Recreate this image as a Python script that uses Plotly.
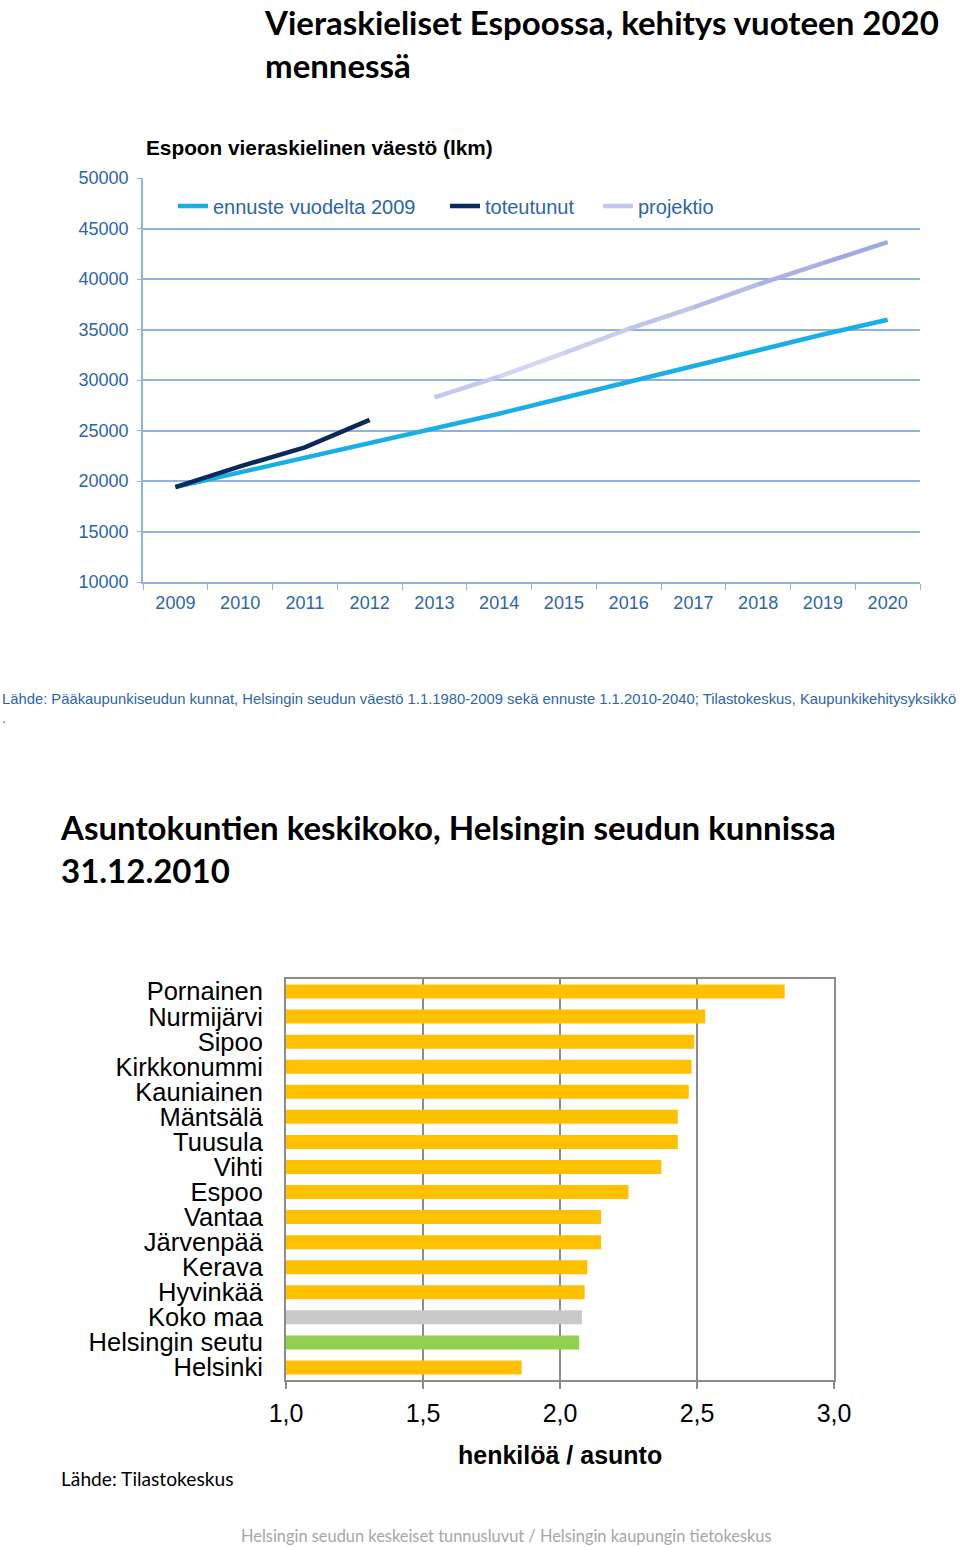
import plotly.graph_objects as go

# ---------------- data: top chart ----------------
years = ["2009", "2010", "2011", "2012", "2013", "2014", "2015", "2016",
         "2017", "2018", "2019", "2020"]
ennuste = [19400, 20850, 22270, 23760, 25140, 26660, 28240, 29790,
           31440, 32990, 34500, 35960]
toteutunut_years = ["2009", "2010", "2011", "2012"]
toteutunut = [19400, 21450, 23330, 26050]
projektio_years = ["2013", "2014", "2015", "2016", "2017", "2018", "2019", "2020"]
projektio = [28280, 30330, 32660, 35070, 37200, 39460, 41570, 43650]
y_ticks = [10000, 15000, 20000, 25000, 30000, 35000, 40000, 45000, 50000]

# ---------------- data: bar chart ----------------
kunnat = ["Pornainen", "Nurmijärvi", "Sipoo", "Kirkkonummi", "Kauniainen",
          "Mäntsälä", "Tuusula", "Vihti", "Espoo", "Vantaa", "Järvenpää",
          "Kerava", "Hyvinkää", "Koko maa", "Helsingin seutu", "Helsinki"]
keskikoko = [2.82, 2.53, 2.49, 2.48, 2.47, 2.43, 2.43, 2.37, 2.25, 2.15,
             2.15, 2.10, 2.09, 2.08, 2.07, 1.86]
x_ticks = [1.0, 1.5, 2.0, 2.5, 3.0]

# ---------------- styling ----------------
W, H = 960, 1547
BLUE_TXT = "#2b65ad"
GRID_BLUE = "#8fb2e0"
C_ENN = "#1aaee6"
C_TOT = "#0b2a5c"
PROJ_START = (0xE2, 0xE4, 0xF3)
PROJ_END = (0x9C, 0xA5, 0xDE)
YELLOW = "#FFC000"
special_colors = {"Koko maa": "#C9C9C9", "Helsingin seutu": "#92D050"}
GRAY = "#8c8c8c"
TITLE_FONT = "Lato"
SANS = "Liberation Sans, Arial, sans-serif"


def py(px):
    return 1 - px / H


def px_x(px):
    return px / W


fig = go.Figure()

# top chart lines
fig.add_trace(go.Scatter(x=years, y=ennuste, mode="lines", name="ennuste vuodelta 2009",
                         line=dict(color=C_ENN, width=4.5), xaxis="x", yaxis="y",
                         legend="legend"))
fig.add_trace(go.Scatter(x=toteutunut_years, y=toteutunut, mode="lines", name="toteutunut",
                         line=dict(color=C_TOT, width=4.5), xaxis="x", yaxis="y",
                         legend="legend2"))

n = len(projektio) - 1
for i in range(n):
    t = (i + 0.5) / n
    rgb = tuple(round(a + (b - a) * t) for a, b in zip(PROJ_START, PROJ_END))
    col = "rgb(%d,%d,%d)" % rgb
    fig.add_trace(go.Scatter(
        x=projektio_years[i:i + 2], y=projektio[i:i + 2], mode="lines",
        name="projektio", legendgroup="proj", showlegend=(i == 0),
        line=dict(color=col if i > 0 else "rgb(196,200,236)", width=4.5),
        xaxis="x", yaxis="y", legend="legend3"))

# bar chart
bar_colors = [special_colors.get(k, YELLOW) for k in kunnat]
fig.add_trace(go.Bar(x=keskikoko, y=kunnat, orientation="h",
                     marker=dict(color=bar_colors, line=dict(width=0)),
                     showlegend=False, xaxis="x2", yaxis="y2"))

leg_common = dict(orientation="h", xanchor="left", yanchor="middle", y=py(206),
                  font=dict(size=20, color=BLUE_TXT, family=SANS),
                  bgcolor="rgba(0,0,0,0)", itemwidth=30)

fig.update_layout(
    width=W, height=H,
    margin=dict(l=0, r=0, t=0, b=0, autoexpand=False),
    paper_bgcolor="white", plot_bgcolor="white",
    separators=", ",
    font=dict(family=SANS, color=BLUE_TXT),
    showlegend=True,
    legend=dict(x=px_x(173), **leg_common),
    legend2=dict(x=px_x(445), **leg_common),
    legend3=dict(x=px_x(598), **leg_common),
    xaxis=dict(domain=[px_x(143), px_x(920)], anchor="y", type="category",
               categoryorder="array", categoryarray=years, automargin=False,
               range=[-0.5, len(years) - 0.5],
               showgrid=False, showline=True, linecolor=GRID_BLUE, linewidth=1.5,
               ticks="outside", tickson="boundaries", ticklen=6, tickcolor=GRID_BLUE,
               tickfont=dict(size=18, color=BLUE_TXT), ticklabelstandoff=4),
    yaxis=dict(domain=[py(582), py(178)], anchor="x", range=[10000, 50000],
               tickvals=y_ticks, tickformat="d", automargin=False,
               showgrid=True, gridcolor=GRID_BLUE, gridwidth=1.5,
               showline=True, linecolor=GRID_BLUE, linewidth=1.5,
               ticks="outside", ticklen=4, tickcolor=GRID_BLUE,
               tickfont=dict(size=18, color=BLUE_TXT), ticklabelstandoff=5,
               zeroline=False),
    xaxis2=dict(domain=[px_x(286), px_x(834)], anchor="y2", range=[1.0, 3.0],
                tickvals=x_ticks, tickformat=".1f", automargin=False,
                showgrid=True, gridcolor=GRAY, gridwidth=2,
                showline=True, mirror=True, linecolor=GRAY, linewidth=2,
                ticks="outside", ticklen=7, tickcolor=GRAY, tickwidth=2,
                tickfont=dict(size=25, color="black", family=SANS),
                ticklabelstandoff=3, zeroline=False),
    yaxis2=dict(domain=[py(1380), py(979)], anchor="x2", type="category",
                categoryorder="array", categoryarray=kunnat, autorange="reversed",
                tickmode="array", tickvals=kunnat, ticktext=kunnat, automargin=False,
                showgrid=False, showline=True, mirror=True, linecolor=GRAY, linewidth=2,
                ticks="", tickfont=dict(size=25.5, color="black", family=SANS),
                ticklabelstandoff=16),
    bargap=0.44,
)

ann = [
    dict(text="<b>Vieraskieliset Espoossa, kehitys vuoteen 2020<br>mennessä</b>",
         x=px_x(262), y=1.0, xanchor="left", yanchor="top", align="left",
         font=dict(family=TITLE_FONT, size=33, color="black")),
    dict(text="<b>Espoon vieraskielinen väestö (lkm)</b>",
         x=px_x(144), y=py(147), xanchor="left", yanchor="middle", align="left",
         font=dict(family=SANS, size=20.8, color="black")),
    dict(text="Lähde: Pääkaupunkiseudun kunnat, Helsingin seudun väestö 1.1.1980-2009 sekä ennuste "
              "1.1.2010-2040; Tilastokeskus, Kaupunkikehitysyksikkö<br>.",
         x=0, y=py(709), xanchor="left", yanchor="middle", align="left",
         font=dict(family=SANS, size=14.8, color=BLUE_TXT)),
    dict(text="<b>Asuntokuntien keskikoko, Helsingin seudun kunnissa<br>31.12.2010</b>",
         x=px_x(58), y=py(848), xanchor="left", yanchor="middle", align="left",
         font=dict(family=TITLE_FONT, size=33, color="black")),
    dict(text="<b>henkilöä / asunto</b>",
         x=px_x(560), y=py(1455), xanchor="center", yanchor="middle",
         font=dict(family=SANS, size=25, color="black")),
    dict(text="Lähde: Tilastokeskus",
         x=px_x(59), y=py(1478), xanchor="left", yanchor="middle",
         font=dict(family=TITLE_FONT, size=19.2, color="black")),
    dict(text="Helsingin seudun keskeiset tunnusluvut / Helsingin kaupungin tietokeskus",
         x=px_x(506), y=py(1535), xanchor="center", yanchor="middle",
         font=dict(family=TITLE_FONT, size=16.4, color="#a6a6a6")),
]
for a in ann:
    a.update(xref="paper", yref="paper", showarrow=False)
fig.update_layout(annotations=ann)

fig.write_html("out.html", config={"displayModeBar": False},
               post_script="document.body.style.margin='0';")
